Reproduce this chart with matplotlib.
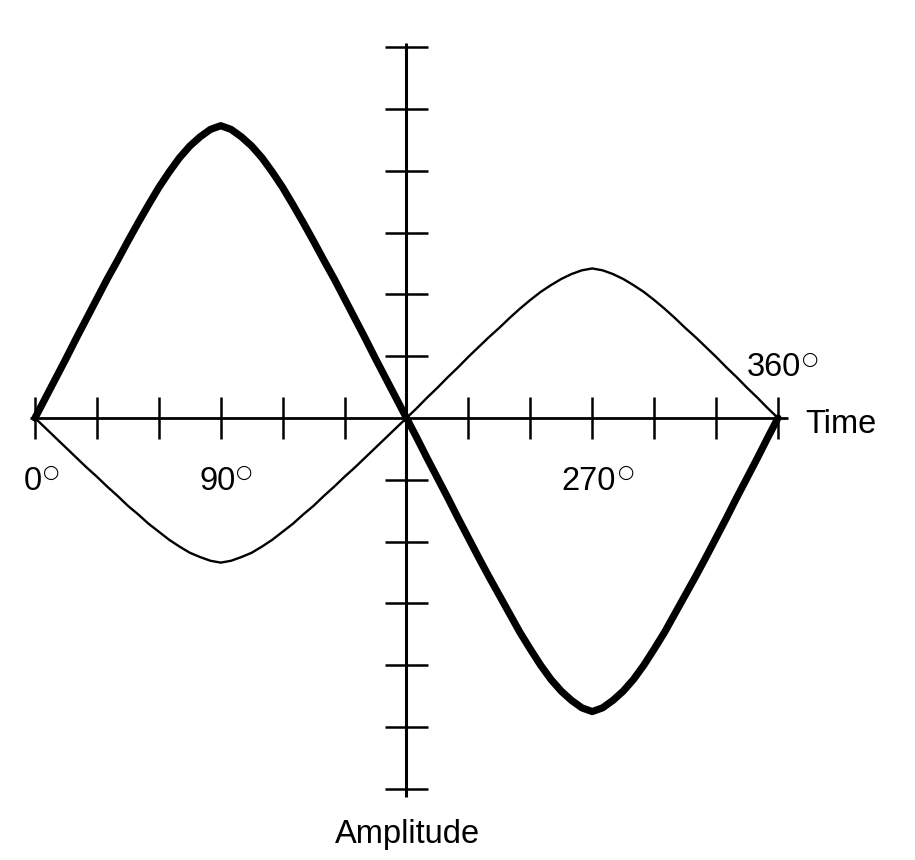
"""Redraw the two-wave amplitude vs time diagram (degrees on the time axis)."""

from __future__ import annotations

import matplotlib

matplotlib.use("Agg")
import matplotlib.pyplot as plt

# phase angle in degrees, one sample every 5 degrees
ANGLES = list(range(0, 365, 5))

# heavy wave (amplitude units, 1 unit = 1 tick)
THICK_WAVE = [
    0, 0.32, 0.64, 0.96, 1.29, 1.61, 1.93, 2.25, 2.55, 2.86, 3.16, 3.45, 3.73, 3.98, 4.21, 4.40, 4.55, 4.67, 4.73,
    4.67, 4.55, 4.40, 4.21, 3.98, 3.73, 3.45, 3.16, 2.86, 2.55, 2.25, 1.93, 1.61, 1.29, 0.96, 0.64, 0.32, 0,
    -0.32, -0.65, -0.97, -1.29, -1.62, -1.94, -2.26, -2.57, -2.87, -3.17, -3.47, -3.74, -4.00, -4.23, -4.42, -4.57, -4.69, -4.75,
    -4.69, -4.57, -4.42, -4.23, -4.00, -3.74, -3.47, -3.17, -2.87, -2.57, -2.26, -1.94, -1.62, -1.29, -0.97, -0.65, -0.32, 0,
]

# light wave, opposite phase and about half the size
THIN_WAVE = [
    0, -0.16, -0.32, -0.48, -0.64, -0.80, -0.95, -1.11, -1.26, -1.42, -1.56, -1.71, -1.84, -1.97, -2.08, -2.18, -2.25, -2.31, -2.34,
    -2.31, -2.25, -2.18, -2.08, -1.97, -1.84, -1.71, -1.56, -1.42, -1.26, -1.11, -0.95, -0.80, -0.64, -0.48, -0.32, -0.16, 0,
    0.16, 0.33, 0.49, 0.66, 0.82, 0.99, 1.15, 1.31, 1.46, 1.62, 1.77, 1.91, 2.04, 2.15, 2.25, 2.33, 2.39, 2.42,
    2.39, 2.33, 2.25, 2.15, 2.04, 1.91, 1.77, 1.62, 1.46, 1.31, 1.15, 0.99, 0.82, 0.66, 0.49, 0.33, 0.16, 0,
]

TIME_TICKS = list(range(0, 361, 30))
AMP_TICKS = [-6, -5, -4, -3, -2, -1, 1, 2, 3, 4, 5, 6]

# angle labels: digits, where they start, and where the degree ring sits
DEGREE_LABELS = ["0", "90", "270", "360"]
DEGREE_LABEL_X = [-5.3, 79.9, 255.2, 344.8]
DEGREE_LABEL_Y = [-1.165, -1.165, -1.165, 0.68]
RING_X = [8.0, 101.3, 286.3, 375.5]
RING_Y = [-0.88, -0.88, -0.88, 0.95]

FONT = "Liberation Sans"
FONT_SIZE = 23.5


def main() -> None:
    fig = plt.figure(figsize=(9.15, 8.6), dpi=100)
    ax = fig.add_axes([0, 0, 1, 1])
    ax.set_xlim(-16.96, 426.4)
    ax.set_ylim(-7.152, 6.764)
    ax.axis("off")

    # axes drawn by hand, crossing at 180 degrees
    ax.plot([-2.4, 364.8], [0, 0], color="black", linewidth=2.0, solid_capstyle="butt")
    ax.plot([180, 180], [-6.13, 6.07], color="black", linewidth=2.2, solid_capstyle="butt")
    for t in TIME_TICKS:
        ax.plot([t, t], [-0.34, 0.34], color="black", linewidth=1.8, solid_capstyle="butt")
    for a in AMP_TICKS:
        ax.plot([169.5, 190.5], [a, a], color="black", linewidth=1.8, solid_capstyle="butt")

    ax.plot(ANGLES, THIN_WAVE, color="black", linewidth=1.7, solid_joinstyle="round")
    ax.plot(ANGLES, THICK_WAVE, color="black", linewidth=5.2, solid_joinstyle="round",
            solid_capstyle="round")

    text_kw = dict(family=FONT, fontsize=FONT_SIZE, color="black")
    for label, x, y in zip(DEGREE_LABELS, DEGREE_LABEL_X, DEGREE_LABEL_Y):
        ax.text(x, y, label, ha="left", va="baseline", **text_kw)
    # the degree sign in the original is a large thin ring
    for x, y in zip(RING_X, RING_Y):
        ax.text(x, y, "\u25cb", ha="center", va="center", family="DejaVu Sans",
                fontsize=13.5, color="black")
    ax.text(373.0, -0.238, "Time", ha="left", va="baseline", **text_kw)
    ax.text(180.5, -6.88, "Amplitude", ha="center", va="baseline", **text_kw)

    fig.savefig("out.png", dpi=100)
    plt.close(fig)


if __name__ == "__main__":
    main()
